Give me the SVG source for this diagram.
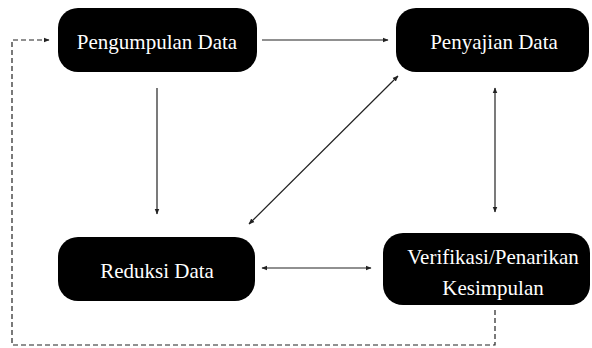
<svg xmlns="http://www.w3.org/2000/svg" width="592" height="348" viewBox="0 0 592 348">
<style>
.box{fill:#000}
.lbl{font-family:"Liberation Serif","Times New Roman",serif;font-size:21px;fill:#fff;text-anchor:middle}
.ln{stroke:#222;stroke-width:1.2;fill:none}
.dash{stroke:#222;stroke-width:1.2;fill:none;stroke-dasharray:5,3}
</style>
<defs>
<marker id="ah" viewBox="0 0 10 10" refX="9" refY="5" markerWidth="6" markerHeight="6" orient="auto-start-reverse" markerUnits="userSpaceOnUse">
<path d="M0,1 L10,5 L0,9 z" fill="#222"/>
</marker>
</defs>
<rect width="592" height="348" fill="#fff"/>
<g id="pengumpulan">
<rect class="box" x="58" y="8" width="199" height="64" rx="20"/>
<text class="lbl" x="157" y="49">Pengumpulan Data</text>
</g>
<g id="penyajian">
<rect class="box" x="396" y="8" width="193" height="64" rx="20"/>
<text class="lbl" x="494" y="49">Penyajian Data</text>
</g>
<g id="reduksi">
<rect class="box" x="58" y="237" width="197" height="64" rx="20"/>
<text class="lbl" x="157" y="278">Reduksi Data</text>
</g>
<g id="verifikasi">
<rect class="box" x="383" y="233" width="207" height="72" rx="20"/>
<text class="lbl" x="493" y="264">Verifikasi/Penarikan</text>
<text class="lbl" x="493" y="295">Kesimpulan</text>
</g>
<g id="connectors">
<line class="ln" x1="262" y1="40" x2="388" y2="40" marker-end="url(#ah)"/>
<line class="ln" x1="157" y1="88" x2="157" y2="214" marker-end="url(#ah)"/>
<line class="ln" x1="249" y1="224" x2="398" y2="76" marker-start="url(#ah)" marker-end="url(#ah)"/>
<line class="ln" x1="495" y1="88" x2="495" y2="212" marker-start="url(#ah)" marker-end="url(#ah)"/>
<line class="ln" x1="262" y1="268" x2="371" y2="268" marker-start="url(#ah)" marker-end="url(#ah)"/>
<path class="dash" d="M495,310 L495,345 L12,345 L12,40 L49,40" marker-end="url(#ah)"/>
</g>
</svg>
